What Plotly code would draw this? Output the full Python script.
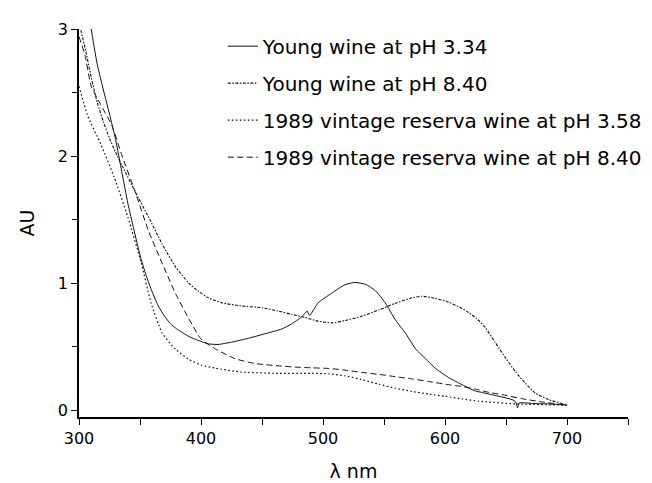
import plotly.graph_objects as go

# Young wine at pH 3.34 (solid)
young_334_nm = [300, 305, 310, 315, 320, 325, 330, 335, 340, 345, 350, 355, 360, 365, 370, 375, 380, 390,
                398, 406, 414, 425, 439, 452, 466, 474, 482, 485, 487, 489, 496, 507, 518, 526, 535, 543,
                551, 559, 568, 576, 584, 592, 603, 614, 625, 630, 641, 655, 658, 659.5, 661, 672, 685, 700]
young_334_au = [3.7, 3.35, 3.0, 2.72, 2.52, 2.33, 2.13, 1.88, 1.63, 1.42, 1.22, 1.06, 0.93, 0.82, 0.74, 0.68, 0.64, 0.58,
                0.548, 0.522, 0.517, 0.535, 0.566, 0.60, 0.638, 0.677, 0.73, 0.76, 0.78, 0.745, 0.845, 0.92, 0.987, 1.005, 0.99, 0.94,
                0.845, 0.715, 0.60, 0.48, 0.405, 0.33, 0.256, 0.20, 0.15, 0.14, 0.116, 0.083, 0.064, 0.018, 0.057, 0.052, 0.049, 0.04]

# Young wine at pH 8.40 (dash-dot)
young_840_nm = [300, 305, 310, 315, 320, 325, 330, 335, 346, 357, 368, 379, 390, 398, 406, 417, 433, 450, 463, 474,
                485, 496, 507, 518, 532, 546, 559, 573, 581, 592, 603, 614, 620, 626, 633, 641, 650, 658, 666, 674,
                685, 700]
young_840_au = [3.05, 2.85, 2.62, 2.42, 2.27, 2.14, 2.03, 1.93, 1.72, 1.52, 1.31, 1.13, 1.0, 0.935, 0.884, 0.845, 0.82, 0.806, 0.78, 0.755,
                0.73, 0.70, 0.687, 0.705, 0.74, 0.79, 0.84, 0.884, 0.897, 0.88, 0.85, 0.80, 0.765, 0.72, 0.65, 0.535, 0.406, 0.30, 0.21, 0.134,
                0.083, 0.04]

# 1989 vintage reserva wine at pH 3.58 (dotted)
res_358_nm = [300, 307, 318, 329, 340, 351, 359, 368, 379, 390, 400, 412, 433, 461, 490, 505, 518, 532, 546, 559,
              573, 587, 600, 614, 628, 636, 658, 700]
res_358_au = [2.55, 2.32, 2.09, 1.83, 1.52, 1.16, 0.845, 0.61, 0.48, 0.40, 0.355, 0.33, 0.30, 0.29, 0.29, 0.285, 0.27, 0.24, 0.204, 0.173,
              0.147, 0.126, 0.109, 0.088, 0.07, 0.064, 0.049, 0.039]

# 1989 vintage reserva wine at pH 8.40 (dashed)
res_840_nm = [300, 305, 310, 318, 327, 335, 346, 357, 368, 379, 390, 400, 412, 428, 444, 463, 477, 491, 505, 518,
              532, 546, 559, 573, 587, 600, 614, 625, 636, 650, 663, 680, 700]
res_840_au = [2.94, 2.79, 2.55, 2.40, 2.24, 2.01, 1.72, 1.41, 1.16, 0.92, 0.72, 0.56, 0.48, 0.405, 0.367, 0.349, 0.339, 0.333, 0.328, 0.315,
              0.297, 0.281, 0.264, 0.246, 0.225, 0.204, 0.186, 0.165, 0.14, 0.116, 0.09, 0.064, 0.039]

names = ["Young wine at pH 3.34", "Young wine at pH 8.40",
         "1989 vintage reserva wine at pH 3.58", "1989 vintage reserva wine at pH 8.40"]

x_ticks = [300, 400, 500, 600, 700]
y_ticks = [0, 1, 2, 3]

FONT = "DejaVu Sans"
LC = "#111111"

fig = go.Figure()
series = [(young_334_nm, young_334_au, "solid", 1.0),
          (young_840_nm, young_840_au, "3px,1.5px,1.5px,1.5px", 1.1),
          (res_358_nm, res_358_au, "1.6px,2.4px", 1.2),
          (res_840_nm, res_840_au, "6px,3.5px", 1.0)]
for i, (xs, ys, dash, w) in enumerate(series):
    fig.add_trace(go.Scatter(x=xs, y=ys, mode="lines", name=names[i], legendgroup=f"g{i}",
                             line=dict(color=LC, width=w, dash=dash, shape="spline", smoothing=0.5)))

fig.update_layout(
    width=652, height=483,
    margin=dict(l=71, r=32, t=21, b=67),
    paper_bgcolor="white", plot_bgcolor="white",
    font=dict(family=FONT, size=16, color="black"),
    showlegend=True,
    legend=dict(x=0.262, y=1.006, xanchor="left", yanchor="top",
                font=dict(family=FONT, size=20, color="black"),
                bgcolor="rgba(0,0,0,0)", tracegroupgap=8, itemwidth=30),
    xaxis=dict(range=[300, 750], tickvals=x_ticks, ticks="outside", ticklen=6, tickwidth=1.2,
               tickcolor="black", showline=True, linecolor="black", linewidth=1.5,
               showgrid=False, zeroline=False,
               minor=dict(tickvals=[350, 450, 550, 650, 750], ticks="outside", ticklen=6, tickwidth=1.2, tickcolor="black"),
               title=dict(text="λ nm", font=dict(family=FONT, size=19), standoff=18),
               tickfont=dict(family=FONT, size=16)),
    yaxis=dict(range=[-0.054, 3.0], tickvals=y_ticks, ticks="outside", ticklen=6, tickwidth=1.2,
               tickcolor="black", showline=True, linecolor="black", linewidth=1.5,
               showgrid=False, zeroline=False,
               minor=dict(tickvals=[0.5, 1.5, 2.5], ticks="outside", ticklen=5, tickwidth=1.2, tickcolor="black"),
               title=dict(text="AU", font=dict(family=FONT, size=19), standoff=18),
               tickfont=dict(family=FONT, size=16)),
)

fig.write_html("out.html")
